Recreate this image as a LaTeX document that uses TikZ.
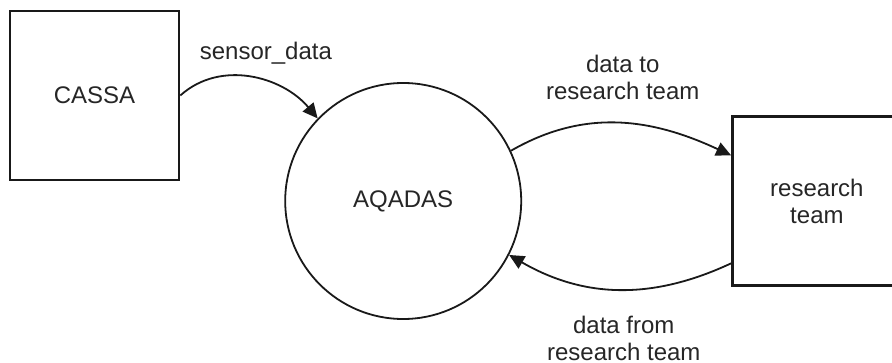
\documentclass[tikz,border=0pt]{standalone}
\usepackage{fontspec}
\setmainfont{Liberation Sans}
\usetikzlibrary{arrows.meta,positioning}
\tikzset{%
  >={Triangle[length=7.5pt,width=7pt]},
  base/.style = {draw=black!90, text=black!85,
      font=\fontsize{12}{13.5}\selectfont, align=center},
  entity/.style = {base, rectangle, line width=1.3pt, minimum size=84.5pt},
  process/.style = {base, circle, line width=0.9pt, minimum size=118pt},
  flow/.style = {->, line width=0.9pt, draw=black!90},
  flowlabel/.style = {text=black!85, font=\fontsize{12}{13.5}\selectfont,
      align=center},
}

\begin{document}
\begin{tikzpicture}[x=0.5pt, y=-0.5pt]
  \useasboundingbox (0,0) rectangle (892,363);
  % Specification of nodes (position, etc.)
  \node (cassa)        [entity] at (94.5,95.5)                    {CASSA};
  \node (aqadas)       [process, right=52pt of cassa.east, yshift=-52.75pt]
                                                                 {AQADAS};
  \node (researchTeam) [entity, right=104.5pt of aqadas]  {research\\team};
  % Specification of data flows between nodes
  \draw[flow] (cassa.east) to[out=42,in=130]
      node[flowlabel, above=5pt, pos=0.6] {sensor\_data} (aqadas.136);
  \draw[flow] (aqadas.25) to[out=30,in=155]
      node[flowlabel, above=8pt, xshift=1.5pt] {data to\\research team}
      (researchTeam.152);
  \draw[flow] (researchTeam.216) to[out=205,in=-30]
      node[flowlabel, below=9.5pt, xshift=2.5pt] {data from\\research team}
      (aqadas.-27);
\end{tikzpicture}
\end{document}
